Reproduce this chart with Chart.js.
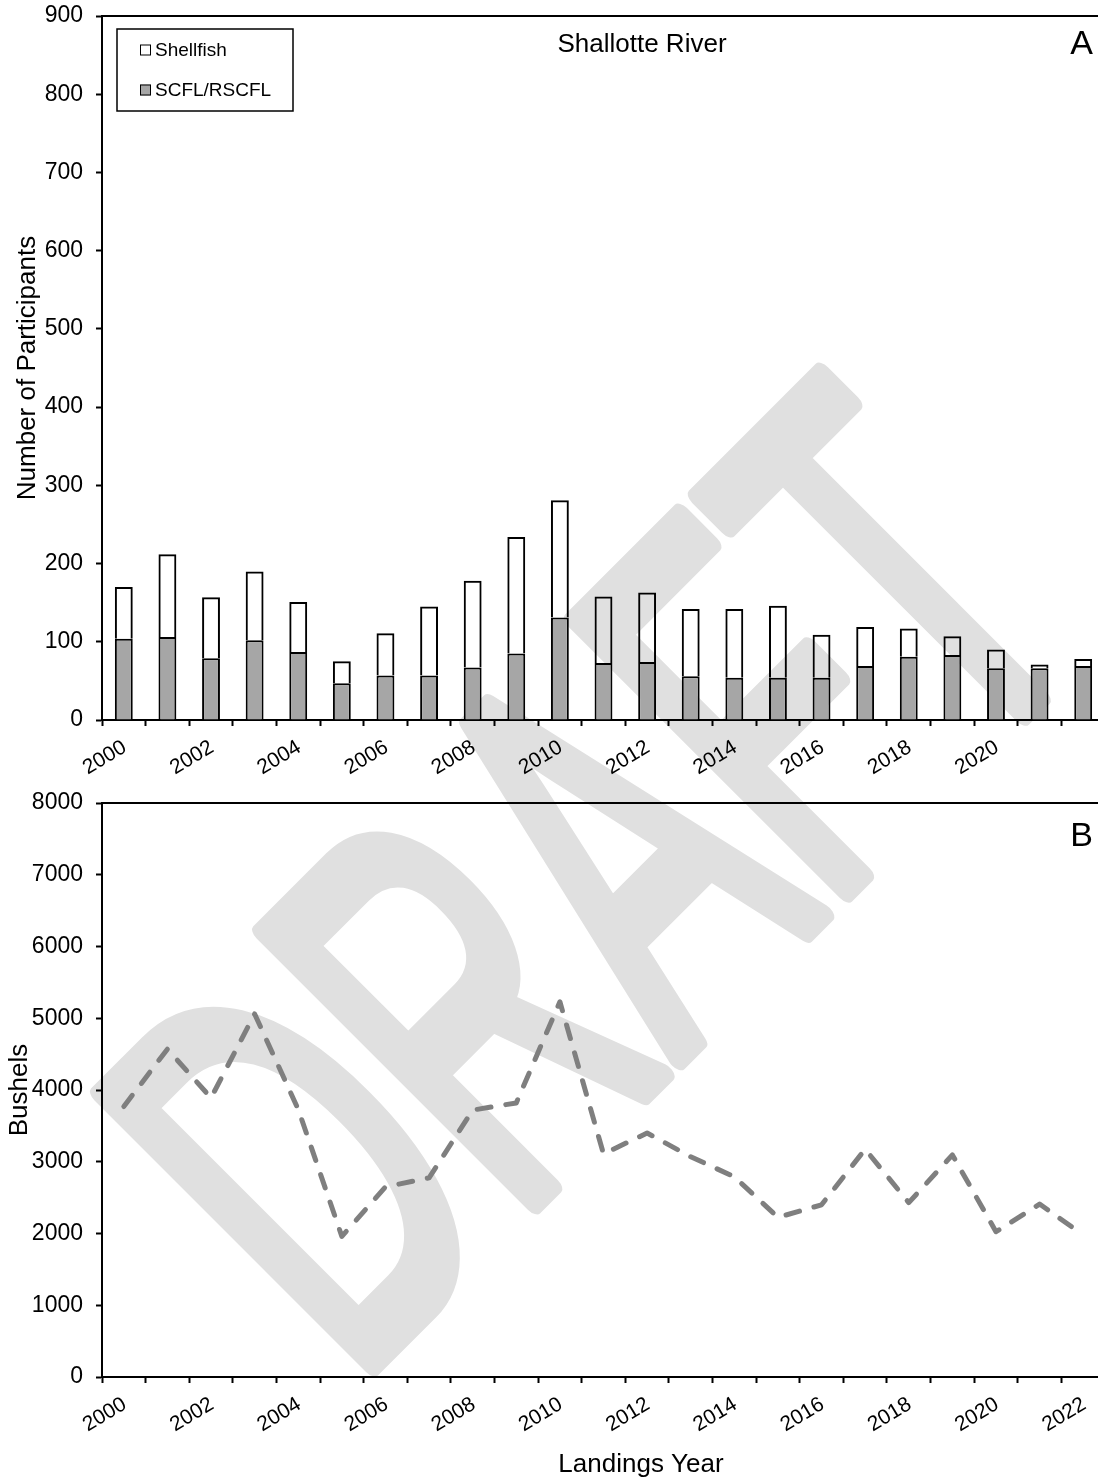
<!DOCTYPE html>
<html>
<head>
<meta charset="utf-8">
<script src="https://cdn.jsdelivr.net/npm/chart.js@4.4.1/dist/chart.umd.min.js"></script>
<style>
  html, body { margin: 0; padding: 0; background: #fff; width: 1098px; height: 1479px; overflow: hidden; }
  canvas { position: absolute; left: 0; }
  #wm { top: 0; }
  #chartA { top: 0; }
  #chartB { top: 780px; }
</style>
</head>
<body>
<canvas id="wm" width="1098" height="1479"></canvas>
<canvas id="chartA" width="1110" height="790"></canvas>
<canvas id="chartB" width="1110" height="699"></canvas>
<script>
// landings years
const years = ['2000', '2001', '2002', '2003', '2004', '2005', '2006', '2007', '2008', '2009', '2010', '2011',
    '2012', '2013', '2014', '2015', '2016', '2017', '2018', '2019', '2020', '2021', '2022'];

// panel A - number of participants (stacked)
const scflParticipants = [104, 106, 79, 102, 87, 47, 57, 57, 67, 85, 131, 73, 74, 56, 54, 54, 54, 69, 81, 83, 66, 66, 69];
const shellfishParticipants = [66, 106, 78, 88, 64, 28, 54, 88, 111, 149, 150, 85, 89, 86, 88, 92, 55, 50, 36, 24, 24, 5, 9];

// panel B - bushels landed
const bushels = [3770, 4570, 3890, 5060, 3730, 1960, 2650, 2775, 3720, 3820, 5230, 3110, 3400, 3070, 2790, 2225,
    2400, 3175, 2430, 3095, 2025, 2410, 1980];

const participantTicks = { min: 0, max: 900, step: 100 };
const bushelTicks = { min: 0, max: 8000, step: 1000 };

const FONT = '"Liberation Sans", Arial, sans-serif';

// DRAFT watermark, sits behind both charts
function drawWatermark() {
    const ctx = document.getElementById('wm').getContext('2d');
    ctx.save();
    ctx.translate(352, 1386);
    ctx.rotate(-Math.PI / 4);
    ctx.font = '558px ' + FONT;
    const w = ctx.measureText('DRAFT').width;
    ctx.scale(1058 / w, 1);
    ctx.fillStyle = '#e0e0e0';
    ctx.strokeStyle = '#e0e0e0';
    ctx.lineWidth = 22;
    ctx.lineJoin = 'round';
    ctx.fillText('DRAFT', 0, 0);
    ctx.strokeText('DRAFT', 0, 0);
    ctx.restore();
}

// top border line, panel letter, titles and legend box
const framePlugin = {
    id: 'frame',
    afterDraw(chart, args, opts) {
        const { ctx, chartArea } = chart;
        ctx.save();
        ctx.strokeStyle = '#000';
        ctx.lineWidth = 2;
        ctx.beginPath();
        ctx.moveTo(chartArea.left, chartArea.top);
        ctx.lineTo(chartArea.right, chartArea.top);
        ctx.stroke();

        ctx.fillStyle = '#000';
        ctx.textBaseline = 'alphabetic';
        ctx.font = '34px ' + FONT;
        ctx.textAlign = 'right';
        ctx.fillText(opts.letter, 1093, opts.letterY);

        ctx.font = '26px ' + FONT;
        ctx.textAlign = 'center';
        if (opts.title) ctx.fillText(opts.title, 642, opts.titleY);
        if (opts.xTitle) ctx.fillText(opts.xTitle, 641, opts.xTitleY);

        if (opts.legend) {
            const box = { x: 117, y: 29, w: 176, h: 82 };
            ctx.fillStyle = '#fff';
            ctx.fillRect(box.x, box.y, box.w, box.h);
            ctx.lineWidth = 1.5;
            ctx.strokeRect(box.x, box.y, box.w, box.h);
            ctx.font = '19px ' + FONT;
            ctx.textAlign = 'left';
            ctx.textBaseline = 'middle';
            const items = chart.data.datasets.slice().reverse();
            items.forEach((ds, i) => {
                const cy = 50 + i * 40;
                ctx.fillStyle = ds.legendColour;
                ctx.fillRect(140, cy - 5.5, 11, 11);
                ctx.lineWidth = 1;
                ctx.strokeRect(140.5, cy - 5, 10, 10);
                ctx.fillStyle = '#000';
                ctx.fillText(ds.label, 155, cy + 1);
            });
        }
        ctx.restore();
    }
};

function xAxis(showLast, height) {
    return {
        type: 'category',
        offset: true,
        stacked: true,
        afterFit: s => { s.height = height; },
        border: { display: true, color: '#000', width: 2 },
        grid: { offset: true, drawOnChartArea: false, drawTicks: true, tickLength: 6, tickWidth: 2, tickColor: '#000' },
        ticks: {
            autoSkip: false,
            minRotation: 31,
            maxRotation: 31,
            padding: 9,
            labelOffset: 1,
            color: '#000',
            font: { family: FONT, size: 21 },
            callback: (value, index) => (index % 2 === 0 && (showLast || index < years.length - 1)) ? years[index] : ''
        }
    };
}

function yAxis(range, title, titlePad, stacked) {
    return {
        min: range.min,
        max: range.max,
        stacked: stacked,
        afterFit: s => { s.width = 102; s.paddingTop = 0; s.paddingBottom = 0; },
        border: { display: true, color: '#000', width: 2 },
        grid: { drawOnChartArea: false, drawTicks: true, tickLength: 6, tickWidth: 2, tickColor: '#000' },
        ticks: { stepSize: range.step, padding: 13, color: '#000', font: { family: FONT, size: 23 }, callback: v => String(v) },
        title: { display: true, text: title, color: '#000', padding: { top: titlePad, bottom: 0 }, font: { family: FONT, size: 26 } }
    };
}

function initializeParticipantsChart() {
    const ctx = document.getElementById('chartA').getContext('2d');
    new Chart(ctx, {
        type: 'bar',
        data: {
            labels: years,
            datasets: [
                {
                    label: 'SCFL/RSCFL',
                    data: scflParticipants,
                    backgroundColor: '#a6a6a6',
                    legendColour: '#a6a6a6',
                    borderColor: '#000',
                    borderWidth: 2,
                    barPercentage: 0.41,
                    categoryPercentage: 1
                },
                {
                    label: 'Shellfish',
                    data: shellfishParticipants,
                    backgroundColor: 'rgba(255, 255, 255, 0)',
                    legendColour: '#fff',
                    borderColor: '#000',
                    borderWidth: 2,
                    barPercentage: 0.41,
                    categoryPercentage: 1
                }
            ]
        },
        options: {
            responsive: false,
            animation: false,
            devicePixelRatio: 1,
            layout: { autoPadding: false, padding: { top: 16, right: 5, bottom: 0, left: 0 } },
            scales: {
                x: xAxis(false, 70),
                y: yAxis(participantTicks, 'Number of Participants', 12, true)
            },
            plugins: {
                legend: { display: false },
                tooltip: { enabled: false },
                frame: { letter: 'A', letterY: 54, title: 'Shallotte River', titleY: 52, legend: true }
            }
        },
        plugins: [framePlugin]
    });
}

function initializeBushelsChart() {
    const ctx = document.getElementById('chartB').getContext('2d');
    new Chart(ctx, {
        type: 'line',
        data: {
            labels: years,
            datasets: [{
                label: 'Bushels',
                data: bushels,
                borderColor: '#7f7f7f',
                borderWidth: 5,
                borderDash: [14, 15],
                borderCapStyle: 'round',
                borderJoinStyle: 'round',
                pointRadius: 0,
                tension: 0,
                fill: false
            }]
        },
        options: {
            responsive: false,
            animation: false,
            devicePixelRatio: 1,
            layout: { autoPadding: false, padding: { top: 23, right: 5, bottom: 0, left: 0 } },
            scales: {
                x: xAxis(true, 102),
                y: yAxis(bushelTicks, 'Bushels', 4, false)
            },
            plugins: {
                legend: { display: false },
                tooltip: { enabled: false },
                frame: { letter: 'B', letterY: 66, xTitle: 'Landings Year', xTitleY: 692 }
            }
        },
        plugins: [framePlugin]
    });
}

drawWatermark();
initializeParticipantsChart();
initializeBushelsChart();
</script>
</body>
</html>
